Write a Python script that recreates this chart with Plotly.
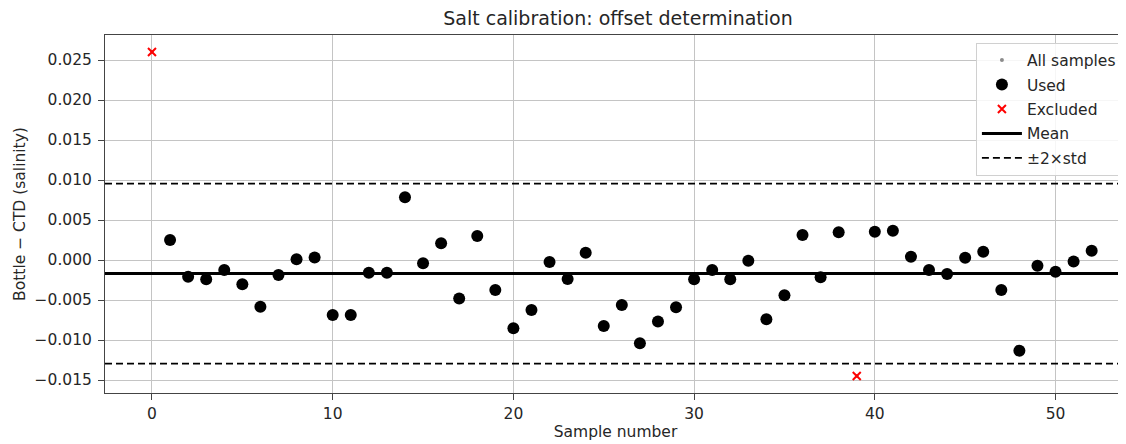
import plotly.graph_objects as go

# ---- data ----
sample_numbers = list(range(53))
offsets = [0.0260, 0.0025, -0.00208, -0.0024, -0.00125, -0.00304, -0.00583, -0.00188, 0.0001, 0.0003,
           -0.00688, -0.00688, -0.00158, -0.00158, 0.00783, -0.00042, 0.00208, -0.0048, 0.0030, -0.00375,
           -0.00854, -0.00625, -0.00025, -0.00238, 0.00092, -0.00825, -0.00563, -0.0104, -0.0077, -0.0059,
           -0.0024, -0.00125, -0.0024, -0.0001, -0.0074, -0.0044, 0.00312, -0.00217, 0.00346, -0.0145,
           0.00354, 0.00367, 0.00042, -0.00125, -0.00175, 0.00029, 0.00104, -0.00375, -0.01133, -0.00071,
           -0.00146, -0.0002, 0.00117]
excluded_idx = [0, 39]
mean_offset = -0.0017
std_offset = 0.005625
x_range = [-2.6, 53.9]
y_range = [-0.016625, 0.028125]
y_ticks = [-0.015, -0.010, -0.005, 0.000, 0.005, 0.010, 0.015, 0.020, 0.025]
x_ticks = [0, 10, 20, 30, 40, 50]

used_x = [s for s in sample_numbers if s not in excluded_idx]
used_y = [offsets[s] for s in used_x]
exc_x = [s for s in excluded_idx]
exc_y = [offsets[s] for s in excluded_idx]

FONT = "DejaVu Sans"
TXT = "#262626"
DASH = "7px,4px"

fig = go.Figure()
fig.add_trace(go.Scatter(x=sample_numbers, y=offsets, mode="markers", name="All samples",
                         marker=dict(size=4, color="#8c8c8c"), legendgroup="a"))
fig.add_trace(go.Scatter(x=used_x, y=used_y, mode="markers", name="Used",
                         marker=dict(size=12, color="black"), legendgroup="b"))
fig.add_trace(go.Scatter(x=exc_x, y=exc_y, mode="markers", name="Excluded",
                         marker=dict(size=8, symbol="x-thin", color="red", line=dict(color="red", width=2)),
                         legendgroup="c"))
fig.add_trace(go.Scatter(x=x_range, y=[mean_offset, mean_offset], mode="lines", name="Mean",
                         line=dict(color="black", width=3), legendgroup="d"))
fig.add_trace(go.Scatter(x=x_range, y=[mean_offset + 2 * std_offset] * 2, mode="lines", name="±2×std",
                         line=dict(color="black", width=1.6, dash=DASH), legendgroup="e"))
fig.add_trace(go.Scatter(x=x_range, y=[mean_offset - 2 * std_offset] * 2, mode="lines", name="±2×std",
                         line=dict(color="black", width=1.6, dash=DASH), showlegend=False, legendgroup="e"))

# page body has an 8px margin, so the figure is 8px smaller and margins 8px smaller
fig.update_layout(
    width=1118, height=436,
    margin=dict(l=97, r=0, t=27, b=51),
    paper_bgcolor="white", plot_bgcolor="white",
    font=dict(family=FONT, size=15.5, color=TXT),
    title=dict(text="Salt calibration: offset determination", x=(618 - 8) / 1118, xanchor="center",
               y=1 - 10 / 436, yanchor="middle", font=dict(size=19, color=TXT)),
    showlegend=True,
    legend=dict(x=0.853, xanchor="left", y=0.979, yanchor="top", bgcolor="rgba(255,255,255,0.85)",
                bordercolor="#d0d0d0", borderwidth=1, font=dict(size=15.5, color=TXT),
                tracegroupgap=1.3, traceorder="grouped", itemwidth=40),
)
fig.update_xaxes(range=x_range, tickvals=x_ticks, showgrid=True, gridcolor="#c4c4c4", gridwidth=1,
                 zeroline=False, showline=True, linecolor="#444", linewidth=1, mirror=True,
                 ticks="outside", ticklen=6, tickcolor="#444", tickfont=dict(size=15.5),
                 title=dict(text="Sample number", font=dict(size=15.5), standoff=4))
fig.update_yaxes(range=y_range, tickvals=y_ticks, tickformat=".3f", showgrid=True, gridcolor="#c4c4c4",
                 gridwidth=1, zeroline=False, showline=True, linecolor="#444", linewidth=1, mirror=True,
                 ticks="outside", ticklen=6, tickcolor="#444", tickfont=dict(size=15.5),
                 ticklabelstandoff=3,
                 title=dict(text="Bottle − CTD (salinity)", font=dict(size=15.5), standoff=5))

fig.write_html("out.html")
